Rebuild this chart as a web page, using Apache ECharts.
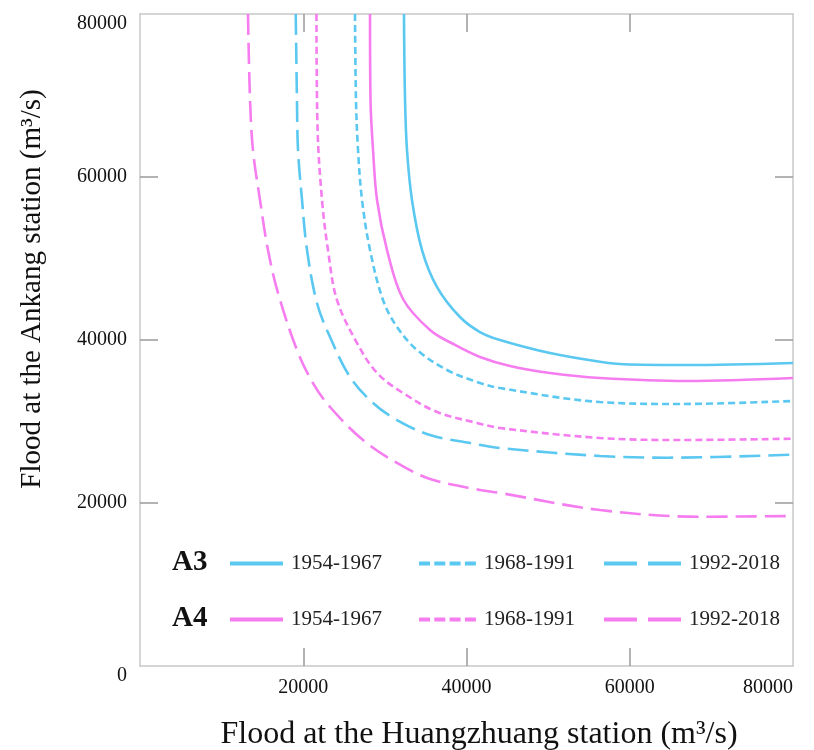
<!DOCTYPE html>
<html>
<head>
<meta charset="utf-8">
<script src="https://cdn.jsdelivr.net/npm/echarts@6/dist/echarts.min.js"></script>
<style>html,body{margin:0;padding:0;background:#fff}#c{width:814px;height:750px}</style>
</head>
<body>
<div id="c"></div>
<script>
// ---- data ----
const axisTicks = [0, 20000, 40000, 60000, 80000];
const innerTicks = [20000, 40000, 60000];
const periods = ['1954-1967', '1968-1991', '1992-2018'];

const a3_1954_x = [32340, 32470, 32710, 33320, 34550, 36390, 39200, 41650, 44100, 50230, 56350, 60030, 67010, 80000];
const a3_1954_y = [80000, 69450, 63310, 57180, 51040, 46500, 42820, 40980, 40000, 38400, 37340, 36990, 36930, 37180];

const a4_1954_x = [28180, 28240, 28550, 29040, 30260, 32220, 35530, 38590, 41650, 45330, 50230, 56350, 67010, 80000];
const a4_1954_y = [80000, 69450, 63310, 57180, 51040, 45030, 41230, 39390, 37920, 36810, 35950, 35340, 34970, 35340];

const a3_1968_x = [26340, 26460, 26710, 27200, 28180, 29770, 31490, 33940, 37610, 41290, 44100, 56350, 66160, 80000];
const a3_1968_y = [80000, 69450, 63310, 57180, 51040, 44910, 41600, 38770, 36320, 34850, 34110, 32390, 32150, 32520];

const a4_1968_x = [21620, 21750, 22300, 23030, 24130, 26590, 29040, 32220, 36390, 41290, 44100, 56350, 66160, 80000];
const a4_1968_y = [80000, 66000, 57180, 51040, 44910, 39630, 35950, 33500, 31170, 29820, 29200, 27980, 27730, 27890];

const a3_1992_x = [19080, 19230, 19360, 19850, 20460, 21680, 23280, 25730, 28550, 31490, 35530, 40430, 44100, 56350, 64560, 80000];
const a3_1992_y = [80000, 69450, 63310, 57180, 51040, 44540, 40370, 35460, 32270, 30180, 28340, 27360, 26750, 25770, 25560, 25930];

const a4_1992_x = [13230, 13480, 13840, 14700, 15680, 16910, 19230, 21190, 23280, 27320, 31490, 35530, 41650, 44100, 56350, 68610, 80000];
const a4_1992_y = [80000, 69450, 63310, 57180, 51040, 45770, 38770, 34720, 31780, 27730, 24910, 22950, 21600, 21230, 19140, 18320, 18400];

// ---- styles ----
const CYAN = '#5AC8F0', PINK = '#F57DF0';
const FONT = '"Liberation Serif", "Times New Roman", serif';
const SHORT = [7, 4], LONG = [21, 8];

function zip(xs, ys) { return xs.map((x, i) => [x, ys[i]]); }
function mk(name, xs, ys, color, dash) {
  return {
    name, type: 'line', data: zip(xs, ys), smooth: 0.35,
    symbol: 'none', showSymbol: false,
    xAxisIndex: 0, yAxisIndex: 0,
    lineStyle: { color, width: 2.6, type: dash, cap: 'butt' }, itemStyle: { color },
    z: 3, silent: true, animation: false
  };
}
const series = [
  mk('A3 ' + periods[0], a3_1954_x, a3_1954_y, CYAN, 'solid'),
  mk('A3 ' + periods[1], a3_1968_x, a3_1968_y, CYAN, SHORT),
  mk('A3 ' + periods[2], a3_1992_x, a3_1992_y, CYAN, LONG),
  mk('A4 ' + periods[0], a4_1954_x, a4_1954_y, PINK, 'solid'),
  mk('A4 ' + periods[1], a4_1968_x, a4_1968_y, PINK, SHORT),
  mk('A4 ' + periods[2], a4_1992_x, a4_1992_y, PINK, LONG)
];

// one legend per entry so each icon can have its own length
const legendLeft = [228, 417, 602];
const legendWidth = [53, 57, 77];
const legendDash = ['solid', [11, 4.3], [33, 11]];
function legendItem(prefix, i, centerY) {
  return {
    show: true, orient: 'horizontal', left: legendLeft[i], top: centerY - 10, padding: 0,
    itemWidth: legendWidth[i], itemHeight: 14,
    data: [{ name: prefix + ' ' + periods[i], lineStyle: { width: 4, type: legendDash[i], cap: 'butt' }, itemStyle: { opacity: 0 } }],
    formatter: n => n.split(' ')[1],
    textStyle: { fontFamily: FONT, fontSize: 21, color: '#222', padding: [0, 0, 0, 3] },
    selectedMode: false
  };
}
const legends = [];
for (let i = 0; i < 3; i++) legends.push(legendItem('A3', i, 563));
for (let i = 0; i < 3; i++) legends.push(legendItem('A4', i, 619));

const axisLineStyle = { color: '#c8c8c8', width: 1.5 };
const tickStyle = { color: '#9a9a9a', width: 1.5 };
const plain = v => String(v);
function axis(pos, labels, extraLabel) {
  return {
    type: 'value', position: pos, min: axisTicks[0], max: axisTicks[axisTicks.length - 1], interval: 20000,
    axisLine: { show: true, onZero: false, lineStyle: axisLineStyle },
    axisTick: { show: true, inside: true, length: 18, lineStyle: tickStyle, customValues: innerTicks },
    axisLabel: labels ? Object.assign({ fontFamily: FONT, fontSize: 20, color: '#111', formatter: plain }, extraLabel) : { show: false },
    splitLine: { show: false }
  };
}
const chart = echarts.init(document.getElementById('c'), null, { renderer: 'canvas' });
chart.setOption({
  backgroundColor: '#ffffff',
  animation: false,
  grid: { left: 140, right: 21, top: 14, bottom: 84, containLabel: false },
  xAxis: [
    axis('bottom', true, { margin: 12, showMinLabel: false, alignMaxLabel: 'right' }),
    axis('top', false)
  ],
  yAxis: [
    axis('left', true, { margin: 13, verticalAlignMinLabel: 'top', verticalAlignMaxLabel: 'top' }),
    axis('right', false)
  ],
  legend: legends,
  graphic: [
    { type: 'text', x: 479, y: 735, style: { text: 'Flood at the Huangzhuang station (m³/s)', font: '32px ' + FONT, fill: '#111', align: 'center', verticalAlign: 'middle' } },
    { type: 'text', x: 32, y: 289, rotation: Math.PI / 2, style: { text: 'Flood at the Ankang station (m³/s)', font: '29px ' + FONT, fill: '#111', align: 'center', verticalAlign: 'middle' } },
    { type: 'text', x: 172, y: 563, style: { text: 'A3', font: 'bold 29px ' + FONT, fill: '#111', align: 'left', verticalAlign: 'middle' } },
    { type: 'text', x: 172, y: 619, style: { text: 'A4', font: 'bold 29px ' + FONT, fill: '#111', align: 'left', verticalAlign: 'middle' } }
  ],
  series
});
</script>
</body>
</html>
